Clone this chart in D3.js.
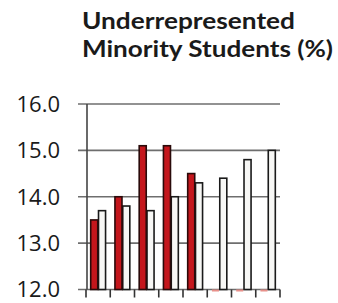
<!DOCTYPE html>
<html><head><meta charset="utf-8">
<script src="https://cdn.jsdelivr.net/npm/d3@7"></script>
<style>body{margin:0;background:#fff}svg{display:block}</style>
</head><body>
<svg id="c" width="338" height="303"></svg>
<script>
const categories = ["G1","G2","G3","G4","G5","G6","G7","G8"];
const redValues = [13.5, 14.0, 15.1, 15.1, 14.5, 12.0, 12.0, 12.0];
const whiteValues = [13.7, 13.8, 13.7, 14.0, 14.3, 14.4, 14.8, 15.0];
const yTicks = [12, 13, 14, 15, 16];
const titleLines = ["Underrepresented", "Minority Students (%)"];

const svg = d3.select("#c");
const x = d3.scaleBand().domain(categories).range([86, 280]);
const y = d3.scaleLinear().domain([12, 16]).range([289.5, 104]);
const sub = d3.scaleBand().domain(["red","white"]).range([0, x.bandwidth()]).paddingOuter(0.6).paddingInner(0.1);

// title
svg.append("g").selectAll("text").data(titleLines).join("text")
  .attr("x", 82).attr("y", (d,i)=>29 + i*28)
  .attr("font-family","Lato, 'Open Sans', sans-serif").attr("font-weight","bold")
  .attr("font-size", 23).attr("fill","#1a1a1a")
  .attr("textLength",(d,i)=> i===0 ? 213 : 251).attr("lengthAdjust","spacingAndGlyphs")
  .text(d=>d);

// gridlines
svg.append("g").selectAll("line").data(yTicks).join("line")
  .attr("x1", 78).attr("x2", 280).attr("y1", d=>y(d)).attr("y2", d=>y(d))
  .attr("stroke","#6e6e6e").attr("stroke-width",1.6);

// y tick labels
svg.append("g").selectAll("text").data(yTicks).join("text")
  .attr("x", 60).attr("y", d=>y(d)+7.8).attr("text-anchor","end")
  .attr("font-family","'Open Sans', 'Liberation Sans', sans-serif").attr("font-size",22)
  .attr("fill","#1a1a1a")
  .text(d=>d3.format(".1f")(d));

// y axis line
svg.append("line").attr("x1",87).attr("x2",87).attr("y1",y(16)).attr("y2",y(12))
  .attr("stroke","#444").attr("stroke-width",1.6);

// bottom ticks at band edges
const edges = categories.map(c=>x(c)).concat([x.range()[1]]);
svg.append("g").selectAll("line").data(edges).join("line")
  .attr("x1",d=>d).attr("x2",d=>d).attr("y1",y(12)).attr("y2",y(12)+8)
  .attr("stroke","#333").attr("stroke-width",1.6);

// bars
const g = svg.append("g");
g.selectAll("rect.w").data(whiteValues).join("rect").attr("class","w")
  .attr("x",(d,i)=>x(categories[i])+sub("white"))
  .attr("width",sub.bandwidth())
  .attr("y",d=>y(d)).attr("height",d=>y(12)-y(d))
  .attr("fill","#f7f7f5").attr("stroke","#1a1a1a").attr("stroke-width",1.6);
g.selectAll("rect.r").data(redValues).join("rect").attr("class","r")
  .attr("x",(d,i)=>x(categories[i])+sub("red"))
  .attr("width",sub.bandwidth())
  .attr("y",d=> d>12 ? y(d) : y(12))
  .attr("height",d=> d>12 ? y(12)-y(d) : 2)
  .attr("fill",d=> d>12 ? "#c4161c" : "#e8908a")
  .attr("stroke",d=> d>12 ? "#2a0a0a" : "none").attr("stroke-width",1.6);
</script>
</body></html>
